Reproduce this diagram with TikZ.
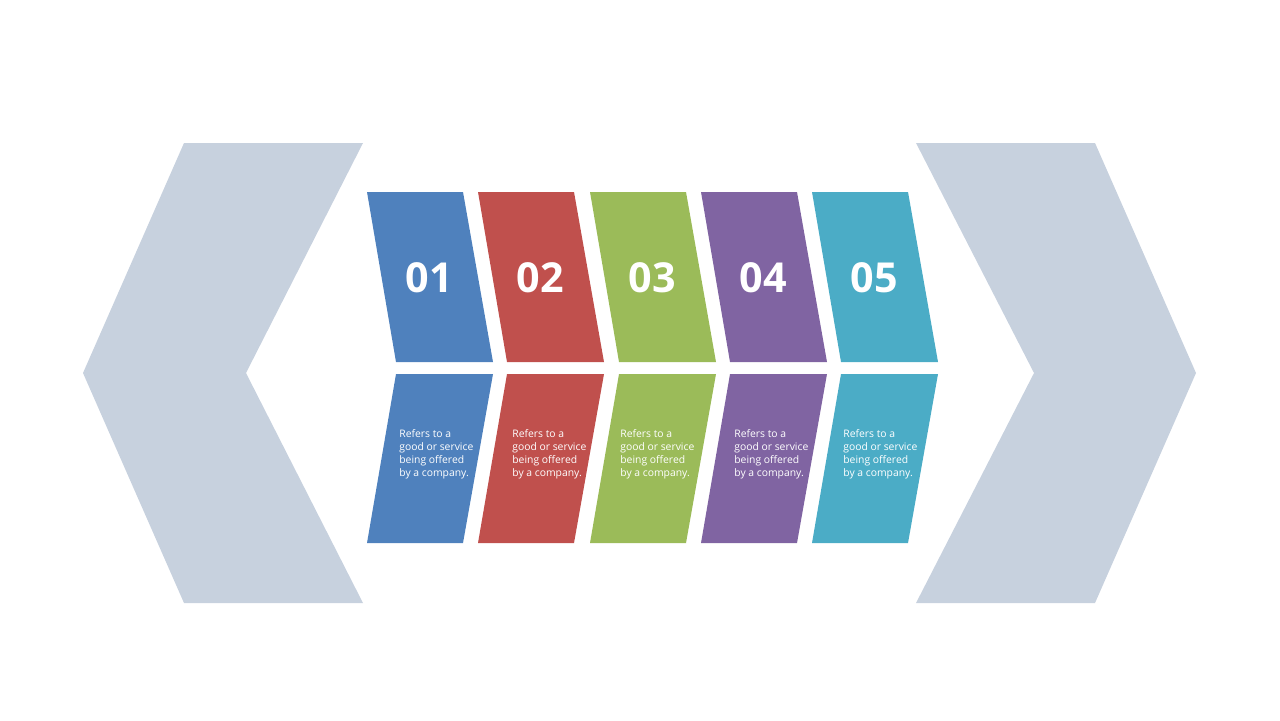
\documentclass[tikz,border=0pt]{standalone}
\usepackage{fontspec}
\setmainfont{Open Sans}
\definecolor{chevgray}{RGB}{199,209,222}
\definecolor{cardblue}{RGB}{79,129,189}
\definecolor{cardred}{RGB}{192,80,77}
\definecolor{cardgreen}{RGB}{155,187,89}
\definecolor{cardpurple}{RGB}{128,100,162}
\definecolor{cardaqua}{RGB}{75,172,198}
\tikzset{
  numtext/.style={text=white,font=\fontsize{23.5}{23.5}\selectfont\bfseries,inner sep=0pt},
  desctext/.style={text=white,font=\fontsize{5.9}{7.4}\selectfont,align=left,anchor=west,inner sep=0pt}
}
\begin{document}
\begin{tikzpicture}[line join=miter,x=0.02cm,y=-0.02cm]
\useasboundingbox (0,0) rectangle (1280,720);
\fill[chevgray] (184,143) -- (363,143) -- (246,373) -- (363,603) -- (184,603) -- (83,373) -- cycle;
\fill[chevgray] (916,143) -- (1095,143) -- (1196,373) -- (1095,603) -- (916,603) -- (1034,373) -- cycle;
\foreach \i/\x/\c/\t in {1/367/cardblue/399,2/478/cardred/512,3/590/cardgreen/620,4/701/cardpurple/734,5/812/cardaqua/843}
{
\fill[\c] (\x,192) -- (\x+96,192) -- (\x+126,362) -- (\x+29,362) -- cycle;
\fill[\c] (\x+29,374) -- (\x+126,374) -- (\x+96,543) -- (\x,543) -- cycle;
\node[numtext] (num\i) at (\x+62,278) {0\i};
\node[desctext] (desc\i) at (\t,454) {Refers to a\\good or service\\being offered\\by a company.};
}
\end{tikzpicture}
\end{document}
